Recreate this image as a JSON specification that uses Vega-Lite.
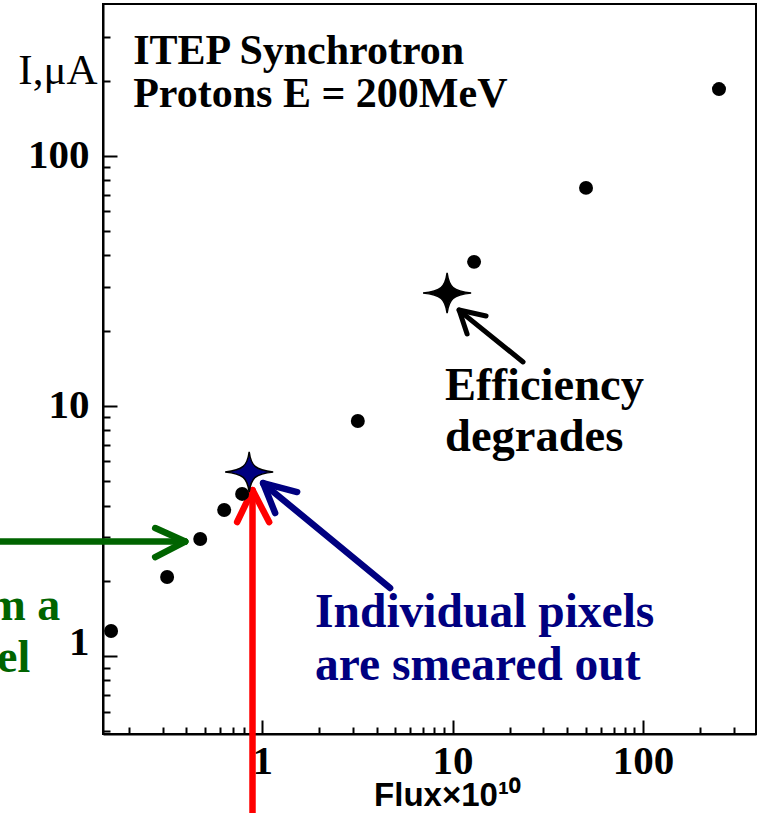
{
  "$schema": "https://vega.github.io/schema/vega-lite/v6.json",
  "width": 653,
  "height": 730,
  "autosize": {"type": "none"},
  "padding": {"left": 103, "top": 4, "right": 3, "bottom": 79},
  "background": "white",
  "config": {"view": {"stroke": "black", "strokeWidth": 2}},
  "datasets": {
    "points": [
      {"x": 0.161, "y": 1.26},
      {"x": 0.317, "y": 2.07},
      {"x": 0.473, "y": 2.94},
      {"x": 0.632, "y": 3.84},
      {"x": 0.785, "y": 4.45},
      {"x": 3.18, "y": 8.71},
      {"x": 12.97, "y": 37.7},
      {"x": 50.2, "y": 74.5},
      {"x": 250.6, "y": 185}
    ],
    "stars": [
      {"x": 0.855, "y": 5.45, "kind": "smeared"},
      {"x": 9.36, "y": 28.3, "kind": "efficiency"}
    ],
    "arrows": [
      {"arrow": "pixel", "x": 0.0421, "y": 2.87, "x2": 0.3943, "y2": 2.87},
      {"arrow": "pixel", "x": 0.3943, "y": 2.87, "x2": 0.2744, "y2": 3.251},
      {"arrow": "pixel", "x": 0.3943, "y": 2.87, "x2": 0.2744, "y2": 2.489},
      {"arrow": "threshold", "x": 0.89, "y": 0.2355, "x2": 0.89, "y2": 4.55},
      {"arrow": "threshold", "x": 0.89, "y": 4.613, "x2": 0.739, "y2": 3.436},
      {"arrow": "threshold", "x": 0.89, "y": 4.613, "x2": 1.088, "y2": 3.436},
      {"arrow": "smeared", "x": 1.02, "y": 4.88, "x2": 4.698, "y2": 1.871},
      {"arrow": "smeared", "x": 1.012, "y": 4.92, "x2": 1.527, "y2": 4.529},
      {"arrow": "smeared", "x": 1.012, "y": 4.92, "x2": 1.17, "y2": 3.733},
      {"arrow": "efficiency", "x": 10.9, "y": 24.0, "x2": 23.45, "y2": 15.0},
      {"arrow": "efficiency", "x": 10.82, "y": 24.21, "x2": 14.99, "y2": 22.91},
      {"arrow": "efficiency", "x": 10.82, "y": 24.21, "x2": 11.92, "y2": 19.41}
    ],
    "notes": [
      {"group": "title", "text": "ITEP Synchrotron", "x": 0.2103, "y": 233.3},
      {"group": "title", "text": "Protons E = 200MeV", "x": 0.2103, "y": 157.0},
      {"group": "efficiency", "text": "Efficiency", "x": 9.13, "y": 10.57},
      {"group": "efficiency", "text": "degrades", "x": 9.13, "y": 6.607},
      {"group": "smeared", "text": "Individual pixels", "x": 1.897, "y": 1.306},
      {"group": "smeared", "text": "are smeared out", "x": 1.897, "y": 0.8017},
      {"group": "pixel", "text": "m a", "x": 0.08704, "y": 1.393},
      {"group": "pixel", "text": "el", "x": 0.06056, "y": 0.863}
    ]
  },
  "encoding": {
    "x": {
      "field": "x",
      "type": "quantitative",
      "scale": {"type": "log", "domain": [0.146, 392], "nice": false},
      "axis": {
        "values": [0.2, 0.3, 0.4, 0.5, 0.6, 0.7, 0.8, 0.9, 1, 2, 3, 4, 5, 6, 7, 8, 9, 10, 20, 30, 40, 50, 60, 70, 80, 90, 100, 200, 300],
        "labelExpr": "indexof([1,10,100], datum.value) >= 0 ? format(datum.value, 'd') : ''",
        "labelFont": "Liberation Serif",
        "labelFontSize": 41,
        "labelFontWeight": "bold",
        "labelColor": "black",
        "labelPadding": 21,
        "labelOverlap": false,
        "labelFlush": false,
        "tickSize": {"condition": {"test": "indexof([1,10,100], datum.value) >= 0", "value": -14}, "value": -7},
        "tickWidth": 2,
        "tickColor": "black",
        "domainColor": "black",
        "domainWidth": 2,
        "grid": false,
        "title": "Flux×10¹⁰",
        "titleFont": "Liberation Sans",
        "titleFontSize": 33,
        "titleFontWeight": "bold",
        "titleColor": "black",
        "titleX": 344,
        "titleY": 71,
        "titleAlign": "center",
        "titleBaseline": "alphabetic"
      }
    },
    "y": {
      "field": "y",
      "type": "quantitative",
      "scale": {"type": "log", "domain": [0.488, 405], "nice": false},
      "axis": {
        "values": [0.5, 0.6, 0.7, 0.8, 0.9, 1, 2, 3, 4, 5, 6, 7, 8, 9, 10, 20, 30, 40, 50, 60, 70, 80, 90, 100, 200, 300],
        "labelExpr": "indexof([1,10,100], datum.value) >= 0 ? format(datum.value, 'd') : ''",
        "labelFont": "Liberation Serif",
        "labelFontSize": 41,
        "labelFontWeight": "bold",
        "labelColor": "black",
        "labelPadding": 28,
        "labelOffset": {"condition": {"test": "datum.value == 1", "value": -14}, "value": 0},
        "labelOverlap": false,
        "labelFlush": false,
        "tickSize": {"condition": {"test": "indexof([1,10,100], datum.value) >= 0", "value": -14}, "value": -7},
        "tickWidth": 2,
        "tickColor": "black",
        "domainColor": "black",
        "domainWidth": 2,
        "grid": false,
        "title": "I,μA",
        "titleFont": "Liberation Serif",
        "titleFontSize": 43,
        "titleFontWeight": "normal",
        "titleColor": "black",
        "titleAngle": 0,
        "titleX": -6,
        "titleY": 79,
        "titleAlign": "right",
        "titleBaseline": "alphabetic"
      }
    }
  },
  "layer": [
    {
      "data": {"name": "arrows"},
      "mark": {"type": "rule", "strokeCap": "round"},
      "encoding": {
        "x2": {"field": "x2"},
        "y2": {"field": "y2"},
        "color": {
          "field": "arrow",
          "type": "nominal",
          "scale": {"domain": ["pixel", "threshold", "smeared", "efficiency"], "range": ["#006400", "#ff0000", "#000080", "#000000"]},
          "legend": null
        },
        "strokeWidth": {"condition": {"test": "datum.arrow == 'efficiency'", "value": 5}, "value": 6.5}
      }
    },
    {
      "data": {"name": "points"},
      "mark": {"type": "point", "shape": "circle", "filled": true, "size": 195, "color": "black", "opacity": 1}
    },
    {
      "data": {"name": "stars"},
      "mark": {
        "type": "point",
        "shape": "M0,-0.84 C0.08,-0.25 0.25,-0.08 1,0 C0.25,0.08 0.08,0.25 0,0.84 C-0.08,0.25 -0.25,0.08 -1,0 C-0.25,-0.08 -0.08,-0.25 0,-0.84 Z",
        "filled": true,
        "size": 2304,
        "opacity": 1,
        "stroke": "black",
        "strokeWidth": 1.5
      },
      "encoding": {
        "fill": {"condition": {"test": "datum.kind == 'smeared'", "value": "#000080"}, "value": "black"}
      }
    },
    {
      "data": {"name": "notes"},
      "transform": [{"filter": "datum.group == 'title'"}],
      "mark": {"type": "text", "font": "Liberation Serif", "fontWeight": "bold", "fontSize": 42, "align": "left", "baseline": "alphabetic", "color": "black"},
      "encoding": {"text": {"field": "text"}}
    },
    {
      "data": {"name": "notes"},
      "transform": [{"filter": "datum.group == 'efficiency'"}],
      "mark": {"type": "text", "font": "Liberation Serif", "fontWeight": "bold", "fontSize": 46.5, "align": "left", "baseline": "alphabetic", "color": "black"},
      "encoding": {"text": {"field": "text"}}
    },
    {
      "data": {"name": "notes"},
      "transform": [{"filter": "datum.group == 'smeared'"}],
      "mark": {"type": "text", "font": "Liberation Serif", "fontWeight": "bold", "fontSize": 47.5, "align": "left", "baseline": "alphabetic", "color": "#000080"},
      "encoding": {"text": {"field": "text"}}
    },
    {
      "data": {"name": "notes"},
      "transform": [{"filter": "datum.group == 'pixel'"}],
      "mark": {"type": "text", "font": "Liberation Serif", "fontWeight": "bold", "fontSize": 46, "align": "right", "baseline": "alphabetic", "color": "#006400"},
      "encoding": {"text": {"field": "text"}}
    }
  ]
}
